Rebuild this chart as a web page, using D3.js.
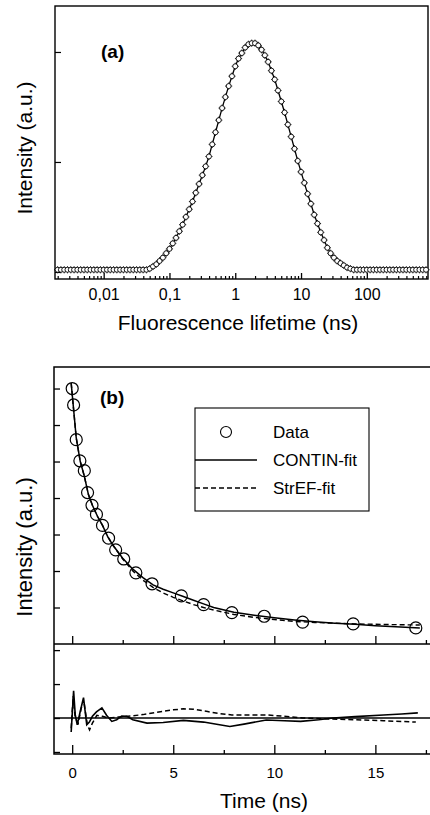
<!DOCTYPE html>
<meta charset="utf-8">
<script src="https://d3js.org/d3.v7.min.js"></script>
<style>
body { margin: 0; background: #fff; }
#chart text { font-family: "Liberation Sans", Arial, sans-serif; fill: #000; }
</style>
<div id="chart"></div>
<script>
// ---- panel (a): lifetime distribution (log10 of lifetime in ns) ----
var logLifetime = [
  -2.70,-2.65,-2.60,-2.55,-2.50,-2.45,-2.40,-2.35,-2.30,-2.25,
  -2.20,-2.15,-2.10,-2.05,-2.00,-1.95,-1.90,-1.85,-1.80,-1.75,
  -1.70,-1.65,-1.60,-1.55,-1.50,-1.45,-1.40,-1.35,-1.30,-1.25,
  -1.20,-1.15,-1.10,-1.05,-1.00,-0.95,-0.90,-0.85,-0.80,-0.75,
  -0.70,-0.65,-0.60,-0.55,-0.50,-0.45,-0.40,-0.35,-0.30,-0.25,
  -0.20,-0.15,-0.10,-0.05, 0.00, 0.05, 0.10, 0.15, 0.20, 0.25,
   0.30, 0.35, 0.40, 0.45, 0.50, 0.55, 0.60, 0.65, 0.70, 0.75,
   0.80, 0.85, 0.90, 0.95, 1.00, 1.05, 1.10, 1.15, 1.20, 1.25,
   1.30, 1.35, 1.40, 1.45, 1.50, 1.55, 1.60, 1.65, 1.70, 1.75,
   1.80, 1.85, 1.90, 1.95, 2.00, 2.05, 2.10, 2.15, 2.20, 2.25,
   2.30, 2.35, 2.40, 2.45, 2.50, 2.55, 2.60, 2.65, 2.70, 2.75,
   2.80, 2.85, 2.90
];
var intensityA = [
  0.02,0.02,0.02,0.02,0.02,0.02,0.02,0.02,0.02,0.02,
  0.02,0.02,0.02,0.02,0.02,0.02,0.02,0.02,0.02,0.02,
  0.02,0.02,0.02,0.02,0.02,0.02,0.02,0.02,0.03,0.05,
  0.07,0.10,0.13,0.17,0.21,0.26,0.31,0.37,0.43,0.50,
  0.57,0.64,0.72,0.80,0.88,0.96,1.05,1.16,1.27,1.38,
  1.49,1.59,1.69,1.78,1.87,1.94,1.99,2.04,2.07,2.08,
  2.08,2.06,2.02,1.97,1.91,1.83,1.75,1.65,1.55,1.45,
  1.34,1.23,1.12,1.01,0.91,0.81,0.71,0.62,0.52,0.44,
  0.36,0.29,0.22,0.17,0.13,0.10,0.08,0.06,0.04,0.03,
  0.02,0.02,0.02,0.02,0.02,0.02,0.02,0.02,0.02,0.02,
  0.02,0.02,0.02,0.02,0.02,0.02,0.02,0.02,0.02,0.02,
  0.02,0.02,0.02
];
var tickValuesA = [0.01, 0.1, 1, 10, 100];
var tickLabelsA = ["0,01", "0,1", "1", "10", "100"];

// ---- panel (b): decay, fits and residuals ----
var timeData = [0, 0.07, 0.2, 0.38, 0.6, 0.76, 0.98, 1.2, 1.5, 1.8, 2.15, 2.55, 3.15, 3.95, 5.4, 6.5, 7.9, 9.5, 11.4, 13.9, 17.0];
var intensityData = [7.0, 6.55, 5.6, 5.02, 4.75, 4.15, 3.8, 3.55, 3.25, 2.9, 2.58, 2.33, 1.95, 1.65, 1.32, 1.08, 0.86, 0.76, 0.60, 0.55, 0.44];

var timeFit = [-0.05, 0.2, 0.4, 0.6, 0.8, 1.0, 1.25, 1.5, 1.75, 2.0, 2.5, 3.0, 3.5, 4.0, 4.5, 5.0, 5.5, 6.0, 6.5, 7.0, 8.0, 9.0, 10, 11, 12, 13, 14, 15, 16, 17.2];
var continFit = [7.15, 5.65, 5.0, 4.6, 4.1, 3.8, 3.5, 3.25, 2.95, 2.72, 2.35, 2.05, 1.82, 1.62, 1.5, 1.4, 1.3, 1.2, 1.1, 1.0, 0.87, 0.79, 0.72, 0.66, 0.61, 0.57, 0.54, 0.5, 0.47, 0.44];
var strefFit = [7.15, 5.65, 5.0, 4.6, 4.1, 3.8, 3.5, 3.25, 2.95, 2.72, 2.33, 2.0, 1.75, 1.55, 1.4, 1.28, 1.18, 1.08, 1.0, 0.93, 0.81, 0.73, 0.67, 0.62, 0.59, 0.57, 0.55, 0.54, 0.53, 0.52];

var timeResContin = [-0.05, 0.07, 0.15, 0.25, 0.4, 0.56, 0.72, 0.85, 1.0, 1.2, 1.47, 1.7, 1.96, 2.2, 2.45, 2.7, 3.0, 3.7, 4.5, 5.5, 6.5, 7.0, 7.8, 8.5, 9.6, 10.5, 11.3, 12.2, 12.9, 14.0, 15.4, 16.3, 17.1];
var residContin = [-0.41, 0.8, 0.1, -0.2, 0.2, 0.6, -0.2, -0.12, 0.05, 0.18, 0.3, 0.08, -0.1, -0.05, 0.06, 0.05, -0.05, -0.15, -0.13, -0.07, -0.12, -0.17, -0.25, -0.18, -0.06, -0.08, -0.1, -0.05, 0.0, 0.04, 0.09, 0.12, 0.15];
var timeResStref = [-0.05, 0.05, 0.15, 0.3, 0.45, 0.6, 0.75, 0.86, 1.0, 1.22, 1.5, 1.8, 2.3, 2.9, 3.5, 4.2, 5.0, 5.5, 6.0, 6.7, 7.3, 7.9, 8.7, 9.6, 10.5, 11.4, 12.9, 14.0, 15.4, 17.0];
var residStref = [-0.3, 0.65, 0.0, -0.15, 0.3, 0.4, -0.2, -0.35, -0.15, 0.08, 0.05, 0.0, 0.03, 0.06, 0.1, 0.17, 0.24, 0.27, 0.26, 0.19, 0.13, 0.09, 0.09, 0.09, 0.05, 0.0, -0.03, -0.05, -0.08, -0.12];

var tickValuesB = [0, 5, 10, 15];
var tickLabelsB = ["0", "5", "10", "15"];
var minorTicksB = [2.5, 7.5, 12.5, 17.5];
var legendLabels = ["Data", "CONTIN-fit", "StrEF-fit"];

var svg = d3.select("#chart").append("svg")
    .attr("width", 430)
    .attr("height", 815);

// ================= panel (a) =================
var xA = d3.scaleLog().domain([Math.pow(10, -2.74), Math.pow(10, 2.93)]).range([55, 428]);
var yA = d3.scaleLinear().domain([-0.064, 2.418]).range([279, 6]);

var pa = logLifetime.map(function(l, i) { return {x: Math.pow(10, l), y: intensityA[i]}; });

svg.append("rect")
    .attr("x", 55).attr("y", 6).attr("width", 373).attr("height", 273)
    .attr("fill", "none").attr("stroke", "#000").attr("stroke-width", 1.4);

// minor ticks (log)
var minorA = xA.ticks().filter(function(t) { return tickValuesA.indexOf(t) < 0; });
svg.append("g")
    .attr("transform", "translate(0,279)")
    .call(d3.axisBottom(xA).tickValues(minorA).tickSize(-3).tickFormat(""))
    .call(function(g) { g.select(".domain").remove(); g.selectAll("line").attr("stroke-width", 1.2); });

svg.append("g")
    .attr("transform", "translate(0,279)")
    .call(d3.axisBottom(xA).tickValues(tickValuesA).tickSize(-6).tickPadding(10)
        .tickFormat(function(d, i) { return tickLabelsA[i]; }))
    .call(function(g) {
        g.select(".domain").remove();
        g.selectAll("line").attr("stroke-width", 1.3);
        g.selectAll("text").attr("font-size", "16px");
    });

svg.append("g")
    .attr("transform", "translate(55,0)")
    .call(d3.axisLeft(yA).tickValues([0, 1, 2]).tickSize(-6).tickFormat(""))
    .call(function(g) { g.select(".domain").remove(); g.selectAll("line").attr("stroke-width", 1.2); });

var lineA = d3.line().x(function(d) { return xA(d.x); }).y(function(d) { return yA(d.y); });
svg.append("path").datum(pa)
    .attr("d", lineA)
    .attr("fill", "none").attr("stroke", "#000").attr("stroke-width", 1.3);

svg.append("g").selectAll("path.cross")
    .data(pa).enter().append("path")
    .attr("d", function(d) {
        var cx = xA(d.x), cy = yA(d.y);
        return "M" + (cx - 3.6) + "," + cy + "H" + (cx + 3.6) + "M" + cx + "," + (cy - 3.6) + "V" + (cy + 3.6);
    })
    .attr("stroke", "#000").attr("stroke-width", 0.8);

svg.append("g").selectAll("circle")
    .data(pa).enter().append("circle")
    .attr("cx", function(d) { return xA(d.x); })
    .attr("cy", function(d) { return yA(d.y); })
    .attr("r", 2.5)
    .attr("fill", "#fff").attr("stroke", "#000").attr("stroke-width", 0.9);

svg.append("text")
    .attr("x", 101).attr("y", 58)
    .attr("font-size", "19px").attr("font-weight", "bold")
    .text("(a)");

svg.append("text")
    .attr("x", 238).attr("y", 330)
    .attr("text-anchor", "middle").attr("font-size", "21px")
    .text("Fluorescence lifetime (ns)");

svg.append("text")
    .attr("transform", "translate(32,148) rotate(-90)")
    .attr("text-anchor", "middle").attr("font-size", "21px")
    .text("Intensity (a.u.)");

// ================= panel (b) =================
var xB = d3.scaleLinear().domain([-0.9, 17.9]).range([54, 434]);
var yB = d3.scaleLinear().domain([0, 7.59]).range([644, 367]);
var yR = d3.scaleLinear().domain([-1.06, 2.18]).range([754, 644]);

// frame
svg.append("path")
    .attr("d", "M434,367H54V754H434M54,644H434")
    .attr("fill", "none").attr("stroke", "#000").attr("stroke-width", 1.5);

// upper panel axes
svg.append("g")
    .attr("transform", "translate(0,644)")
    .call(d3.axisBottom(xB).tickValues(tickValuesB).tickSize(-8).tickFormat(""))
    .call(function(g) { g.select(".domain").remove(); g.selectAll("line").attr("stroke-width", 1.3); });
svg.append("g")
    .attr("transform", "translate(0,644)")
    .call(d3.axisBottom(xB).tickValues(minorTicksB).tickSize(-4).tickFormat(""))
    .call(function(g) { g.select(".domain").remove(); g.selectAll("line").attr("stroke-width", 1.3); });
svg.append("g")
    .attr("transform", "translate(54,0)")
    .call(d3.axisLeft(yB).tickValues([1, 2, 3, 4, 5, 6, 7]).tickSize(-6).tickFormat(""))
    .call(function(g) { g.select(".domain").remove(); g.selectAll("line").attr("stroke-width", 1.3); });

// lower panel axes
svg.append("g")
    .attr("transform", "translate(0,754)")
    .call(d3.axisBottom(xB).tickValues(tickValuesB).tickSize(-9).tickPadding(13)
        .tickFormat(function(d, i) { return tickLabelsB[i]; }))
    .call(function(g) {
        g.select(".domain").remove();
        g.selectAll("line").attr("stroke-width", 1.3);
        g.selectAll("text").attr("font-size", "15px");
    });
svg.append("g")
    .attr("transform", "translate(0,754)")
    .call(d3.axisBottom(xB).tickValues(minorTicksB).tickSize(-4).tickFormat(""))
    .call(function(g) { g.select(".domain").remove(); g.selectAll("line").attr("stroke-width", 1.3); });
svg.append("g")
    .attr("transform", "translate(54,0)")
    .call(d3.axisLeft(yR).tickValues([-1, 0, 1, 2]).tickSize(-6).tickFormat(""))
    .call(function(g) { g.select(".domain").remove(); g.selectAll("line").attr("stroke-width", 1.3); });

// zero line of residuals
svg.append("line")
    .attr("x1", 54).attr("x2", 434)
    .attr("y1", yR(0)).attr("y2", yR(0))
    .attr("stroke", "#000").attr("stroke-width", 1.3);

// fits
var fitLine = d3.line().x(function(d) { return xB(d[0]); }).y(function(d) { return yB(d[1]); });
svg.append("path")
    .datum(timeFit.map(function(t, i) { return [t, strefFit[i]]; }))
    .attr("d", fitLine)
    .attr("fill", "none").attr("stroke", "#000").attr("stroke-width", 1.4)
    .attr("stroke-dasharray", "5,3");
svg.append("path")
    .datum(timeFit.map(function(t, i) { return [t, continFit[i]]; }))
    .attr("d", fitLine)
    .attr("fill", "none").attr("stroke", "#000").attr("stroke-width", 1.5);

// data circles
svg.append("g").selectAll("circle")
    .data(timeData.map(function(t, i) { return [t, intensityData[i]]; }))
    .enter().append("circle")
    .attr("cx", function(d) { return xB(d[0]); })
    .attr("cy", function(d) { return yB(d[1]); })
    .attr("r", 6)
    .attr("fill", "none").attr("stroke", "#000").attr("stroke-width", 1.2);

// residuals
var resLine = d3.line().x(function(d) { return xB(d[0]); }).y(function(d) { return yR(d[1]); });
svg.append("path")
    .datum(timeResStref.map(function(t, i) { return [t, residStref[i]]; }))
    .attr("d", resLine)
    .attr("fill", "none").attr("stroke", "#000").attr("stroke-width", 1.5)
    .attr("stroke-dasharray", "5,3");
svg.append("path")
    .datum(timeResContin.map(function(t, i) { return [t, residContin[i]]; }))
    .attr("d", resLine)
    .attr("fill", "none").attr("stroke", "#000").attr("stroke-width", 1.6);

// legend
var legend = svg.append("g");
legend.append("rect")
    .attr("x", 195).attr("y", 408).attr("width", 174).attr("height", 103)
    .attr("fill", "#fff").attr("stroke", "#000").attr("stroke-width", 1.1);
legend.append("circle")
    .attr("cx", 226).attr("cy", 432).attr("r", 5.5)
    .attr("fill", "none").attr("stroke", "#000").attr("stroke-width", 1.1);
legend.append("line")
    .attr("x1", 195).attr("x2", 257).attr("y1", 460).attr("y2", 460)
    .attr("stroke", "#000").attr("stroke-width", 1.5);
legend.append("line")
    .attr("x1", 195).attr("x2", 257).attr("y1", 488).attr("y2", 488)
    .attr("stroke", "#000").attr("stroke-width", 1.4).attr("stroke-dasharray", "5,3");
legend.selectAll("text")
    .data(legendLabels).enter().append("text")
    .attr("x", 273)
    .attr("y", function(d, i) { return 438 + i * 28; })
    .attr("font-size", "17px")
    .text(function(d) { return d; });

svg.append("text")
    .attr("x", 100).attr("y", 404)
    .attr("font-size", "19px").attr("font-weight", "bold")
    .text("(b)");

svg.append("text")
    .attr("x", 264).attr("y", 808)
    .attr("text-anchor", "middle").attr("font-size", "21px")
    .text("Time (ns)");

svg.append("text")
    .attr("transform", "translate(32,547) rotate(-90)")
    .attr("text-anchor", "middle").attr("font-size", "22px")
    .text("Intensity (a.u.)");
</script>
